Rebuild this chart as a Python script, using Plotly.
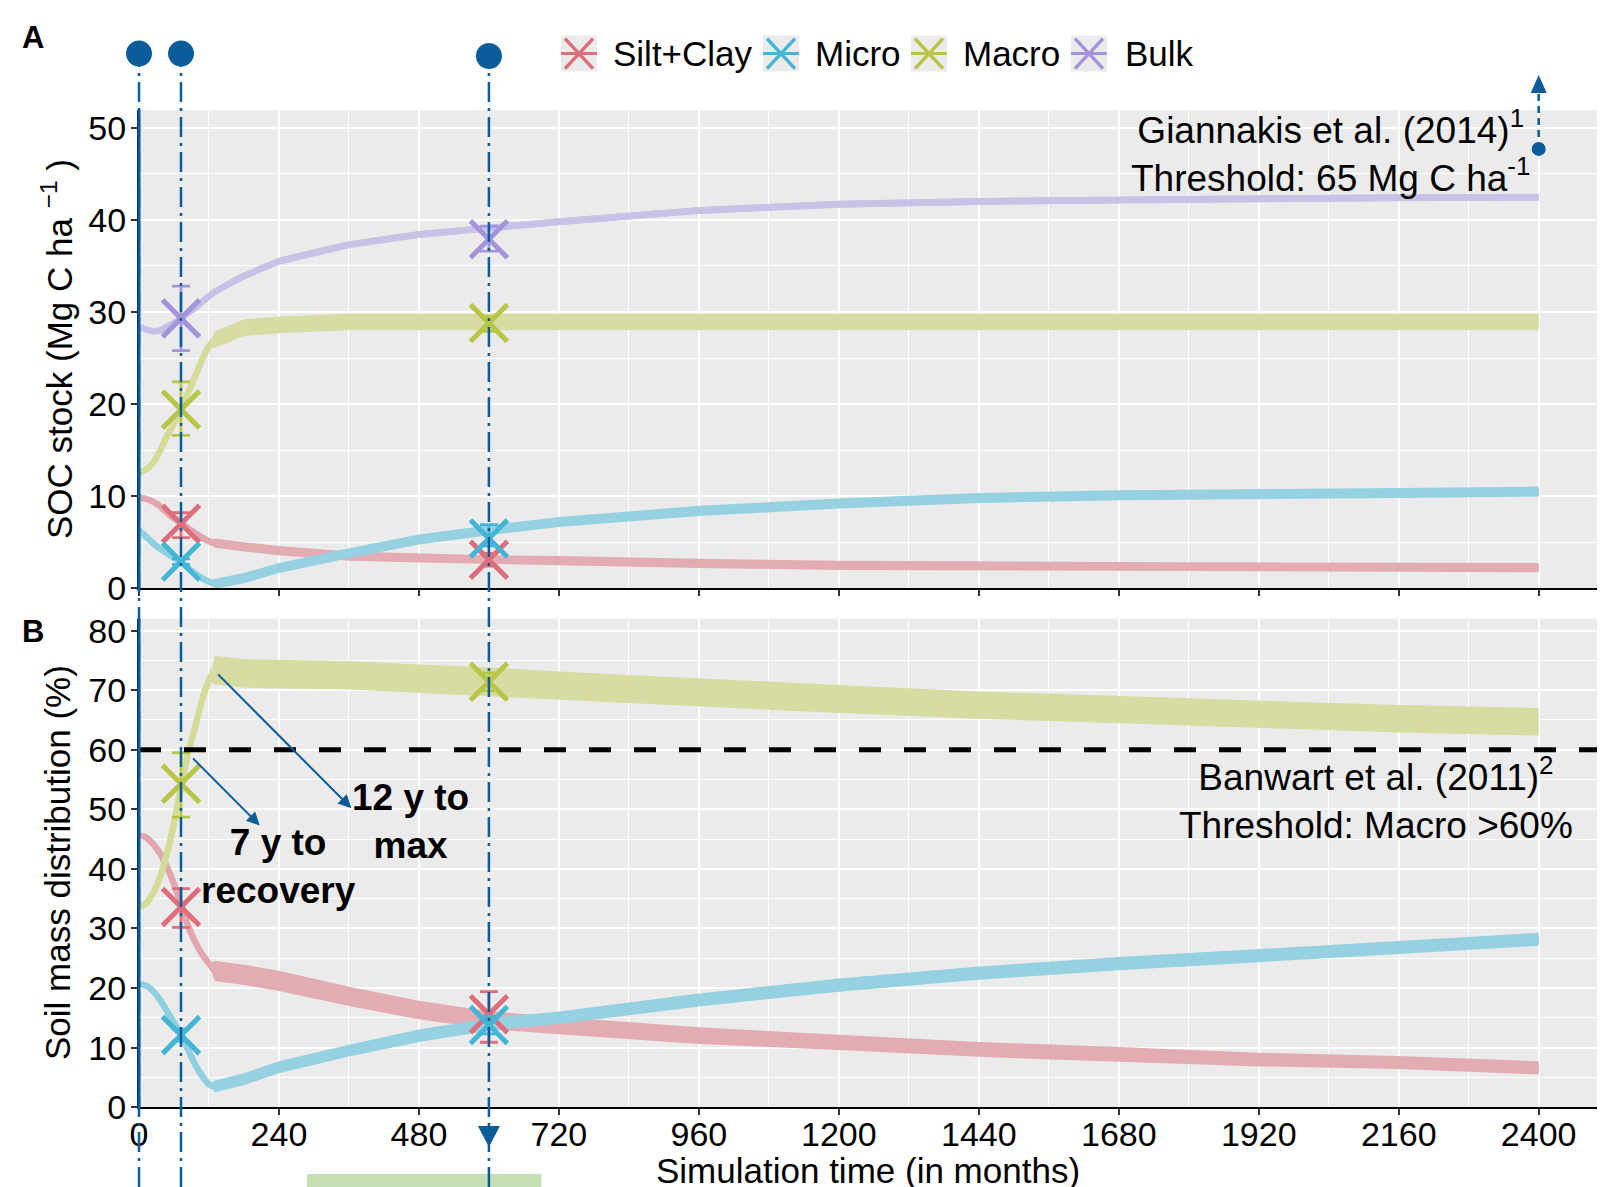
import plotly.graph_objects as go

# ---------------------------------------------------------------- data
TIME = [0, 12, 24, 36, 48, 60, 72, 84, 96, 108, 120, 130, 180, 240, 360, 480,
        600, 720, 960, 1200, 1440, 1680, 1920, 2160, 2400]

SERIES = ["Silt+Clay", "Micro", "Macro", "Bulk"]

# Panel A: SOC stock (Mg C ha-1), centre of the seasonal band
SOC_SILTCLAY = [9.8, 9.7, 9.4, 8.9, 8.2, 7.6, 7.1, 6.5, 6.0, 5.5, 5.1, 4.9, 4.5,
                4.1, 3.5, 3.3, 3.1, 3.0, 2.7, 2.5, 2.4, 2.35, 2.3, 2.3, 2.25]
SOC_MICRO = [6.3, 5.6, 4.9, 4.3, 3.8, 3.3, 2.9, 2.2, 1.6, 1.1, 0.7, 0.5, 1.1,
             2.2, 3.8, 5.3, 6.3, 7.2, 8.4, 9.2, 9.8, 10.1, 10.2, 10.35, 10.5]
SOC_MACRO = [12.5, 12.9, 13.6, 14.9, 16.5, 17.9, 19.4, 21.2, 23.0, 24.8, 26.3,
             27.0, 28.3, 28.6, 28.9, 28.9, 28.9, 28.9, 28.9, 28.9, 28.9, 28.9,
             28.9, 28.9, 28.9]
SOC_BULK = [28.4, 28.1, 27.9, 28.0, 28.4, 28.8, 29.3, 29.9, 30.4, 31.1, 31.7,
            32.2, 33.9, 35.5, 37.3, 38.4, 39.1, 39.8, 41.0, 41.7, 42.0, 42.15,
            42.3, 42.4, 42.45]
# half-height of the seasonal oscillation band (panel A)
SOC_SILTCLAY_AMP = [0, 0, 0, 0, 0, 0, 0, 0, 0, 0, 0, 0.5, 0.5, 0.5, 0.5, 0.5,
                    0.5, 0.5, 0.5, 0.5, 0.5, 0.5, 0.5, 0.5, 0.5]
SOC_MICRO_AMP = [0, 0, 0, 0, 0, 0, 0, 0, 0, 0, 0, 0.55, 0.55, 0.55, 0.55, 0.55,
                 0.55, 0.55, 0.55, 0.55, 0.55, 0.55, 0.55, 0.55, 0.55]
SOC_MACRO_AMP = [0, 0, 0, 0, 0, 0, 0, 0, 0, 0, 0, 0.9, 0.9, 0.9, 0.9, 0.9,
                 0.9, 0.9, 0.9, 0.9, 0.9, 0.9, 0.9, 0.9, 0.9]
SOC_BULK_AMP = [0, 0, 0, 0, 0, 0, 0, 0, 0, 0, 0, 0.38, 0.38, 0.38, 0.38, 0.38,
                0.38, 0.38, 0.38, 0.38, 0.38, 0.38, 0.38, 0.38, 0.38]

# Panel B: soil mass distribution (%), centre of the seasonal band
MASS_SILTCLAY = [45.6, 45.3, 44.2, 42.6, 40.3, 37.5, 34.1, 30.5, 27.8, 25.7,
                 24.1, 22.9, 22.2, 21.2, 18.6, 16.3, 14.6, 13.7, 12.0, 10.9,
                 9.7, 8.9, 8.0, 7.5, 6.6]
MASS_MICRO = [20.7, 20.4, 19.5, 18.0, 16.1, 14.2, 12.3, 9.7, 7.2, 5.3, 3.8, 3.5,
              4.7, 6.7, 9.5, 12.0, 13.9, 15.0, 18.0, 20.5, 22.5, 24.1, 25.4,
              26.8, 28.2]
MASS_MACRO = [33.6, 34.2, 35.9, 38.6, 42.6, 47.7, 53.7, 59.4, 63.8, 68.3, 71.7,
              73.4, 72.8, 72.7, 72.5, 71.9, 71.4, 70.8, 69.6, 68.5, 67.5, 66.7,
              66.0, 65.2, 64.7]
MASS_SILTCLAY_AMP = [0, 0, 0, 0, 0, 0, 0, 0, 0, 0, 0, 1.7, 1.7, 1.7, 1.6, 1.55,
                     1.5, 1.45, 1.4, 1.3, 1.25, 1.2, 1.15, 1.1, 1.1]
MASS_MICRO_AMP = [0, 0, 0, 0, 0, 0, 0, 0, 0, 0, 0, 1.0, 1.0, 1.0, 1.0, 1.05,
                  1.05, 1.05, 1.1, 1.1, 1.1, 1.1, 1.1, 1.1, 1.1]
MASS_MACRO_AMP = [0, 0, 0, 0, 0, 0, 0, 0, 0, 0, 0, 2.4, 2.4, 2.4, 2.4, 2.4,
                  2.4, 2.35, 2.35, 2.35, 2.3, 2.3, 2.3, 2.3, 2.3]

# Measured values (crosses with error bars)
MARK_TIME = [72, 600]
SOC_MARK = {"Silt+Clay": [7.0, 3.1], "Micro": [2.9, 5.4],
            "Macro": [19.4, 28.8], "Bulk": [29.3, 37.9]}
SOC_ERR_PLUS = {"Silt+Clay": [1.2, 0.7], "Micro": [0.3, 1.5],
                "Macro": [3.0, 0.7], "Bulk": [3.5, 1.4]}
SOC_ERR_MINUS = {"Silt+Clay": [1.5, 0.7], "Micro": [0.3, 0.8],
                 "Macro": [2.8, 0.9], "Bulk": [3.5, 1.3]}
MASS_MARK = {"Silt+Clay": [33.6, 15.6], "Micro": [12.1, 13.8], "Macro": [54.3, 71.4]}
MASS_ERR_PLUS = {"Silt+Clay": [3.1, 3.8], "Micro": [1.0, 1.5], "Macro": [5.2, 1.5]}
MASS_ERR_MINUS = {"Silt+Clay": [3.4, 4.7], "Micro": [1.0, 1.5], "Macro": [5.6, 1.5]}

EVENT_TIME = [0, 72, 600]          # vertical reference lines
MACRO_THRESHOLD = 60               # Banwart et al. (2011)
SOC_ARROW_TIME = 2400              # Giannakis threshold marker
SOC_ARROW_VALUE = 47.7
GREEN_SPAN = [288, 690]
X_TICKS = [0, 240, 480, 720, 960, 1200, 1440, 1680, 1920, 2160, 2400]

# ---------------------------------------------------------------- styles
OFF = 8                       # page body margin
W_FIG, H_FIG = 1607, 1179
FONT = "Liberation Sans, Arial, sans-serif"
BLUE = "#0b5c9a"
LINE_COL = {"Silt+Clay": "#e2a7ae", "Micro": "#8fcfe0",
            "Macro": "#d5dc9a", "Bulk": "#c6bfe6"}
BAND_COL = {"Silt+Clay": "#e3acb3", "Micro": "#96d1e1",
            "Macro": "#d7dda2", "Bulk": "#c9c2e6"}
MARK_COL = {"Silt+Clay": "#de6e7b", "Micro": "#45b5d5",
            "Macro": "#b9c546", "Bulk": "#a495da"}

X_PX = (139, 1597)
XMAX = 2500
TOP_PX = (110.2, 588.3)
YMAX_TOP = 51.9
BOT_PX = (618.7, 1107.2)
YMAX_BOT = 82.0


def px(x):
    return (x - OFF) / W_FIG


def py(y):
    return 1 - (y - OFF) / H_FIG


def top_val(pix):
    return (TOP_PX[1] - pix) / (TOP_PX[1] - TOP_PX[0]) * YMAX_TOP


fig = go.Figure()


def add_band(t, c, amp, name, xa, ya):
    upper = [ci + ai for ci, ai in zip(c, amp)]
    lower = [ci - ai for ci, ai in zip(c, amp)]
    fig.add_trace(go.Scatter(x=t, y=c, mode="lines",
                             line=dict(color=LINE_COL[name], width=6.5, shape="spline",
                                       smoothing=0.4),
                             xaxis=xa, yaxis=ya, showlegend=False, hoverinfo="skip"))
    fig.add_trace(go.Scatter(x=t + t[::-1], y=upper + lower[::-1], fill="toself",
                             fillcolor=BAND_COL[name], mode="lines", line=dict(width=0),
                             xaxis=xa, yaxis=ya, hoverinfo="skip", showlegend=False))


# Panel A bands
add_band(TIME, SOC_SILTCLAY, SOC_SILTCLAY_AMP, "Silt+Clay", "x", "y")
add_band(TIME, SOC_MICRO, SOC_MICRO_AMP, "Micro", "x", "y")
add_band(TIME, SOC_MACRO, SOC_MACRO_AMP, "Macro", "x", "y")
add_band(TIME, SOC_BULK, SOC_BULK_AMP, "Bulk", "x", "y")
# Panel B bands
add_band(TIME, MASS_SILTCLAY, MASS_SILTCLAY_AMP, "Silt+Clay", "x2", "y2")
add_band(TIME, MASS_MICRO, MASS_MICRO_AMP, "Micro", "x2", "y2")
add_band(TIME, MASS_MACRO, MASS_MACRO_AMP, "Macro", "x2", "y2")


def add_marks(vals, plus, minus, name, xa, ya):
    col = MARK_COL[name]
    fig.add_trace(go.Scatter(
        x=MARK_TIME, y=vals, mode="markers", xaxis=xa, yaxis=ya, showlegend=False,
        marker=dict(symbol="x-thin", size=37, color=col, line=dict(width=5, color=col)),
        error_y=dict(type="data", symmetric=False, array=plus, arrayminus=minus,
                     color=col, thickness=2.8, width=9)))


for s in SERIES:
    add_marks(SOC_MARK[s], SOC_ERR_PLUS[s], SOC_ERR_MINUS[s], s, "x", "y")
for s in ["Silt+Clay", "Micro", "Macro"]:
    add_marks(MASS_MARK[s], MASS_ERR_PLUS[s], MASS_ERR_MINUS[s], s, "x2", "y2")

# threshold dot (panel A)
fig.add_trace(go.Scatter(x=[SOC_ARROW_TIME], y=[SOC_ARROW_VALUE], mode="markers",
                         marker=dict(size=14, color=BLUE), cliponaxis=False,
                         xaxis="x", yaxis="y", showlegend=False))

# ---------------------------------------------------------------- shapes
shapes = []
# Macro threshold dashed line
shapes.append(dict(type="line", xref="x2 domain", x0=0, x1=1, yref="y2",
                   y0=MACRO_THRESHOLD, y1=MACRO_THRESHOLD,
                   line=dict(color="black", width=5, dash="22px,23px")))
# green bar
shapes.append(dict(type="rect", xref="x2", x0=GREEN_SPAN[0], x1=GREEN_SPAN[1],
                   yref="paper", y0=0, y1=py(1174), fillcolor="#c5e0b4",
                   line=dict(width=0), layer="above"))
# event lines with dots on top
DOT_PIX = [53.6, 53.6, 56.0]
for t, dp in zip(EVENT_TIME, DOT_PIX):
    if t == 0:
        xr, xv = "x2 domain", 0
    else:
        xr, xv = "x2", t
    shapes.append(dict(type="line", xref=xr, x0=xv, x1=xv, yref="paper",
                       y0=0, y1=py(dp),
                       line=dict(color=BLUE, width=2.5, dash="20px,6px,3px,6px")))
    shapes.append(dict(type="circle", xref=xr, xsizemode="pixel", xanchor=xv,
                       x0=-13, x1=13, yref="paper", ysizemode="pixel", yanchor=py(dp),
                       y0=-13, y1=13, fillcolor=BLUE, line=dict(width=0)))
# solid blue left edge inside panels
for yr in ["y domain", "y2 domain"]:
    shapes.append(dict(type="line", xref="x2 domain", x0=0, x1=0, yref=yr, y0=0, y1=1,
                       line=dict(color=BLUE, width=3)))
# down triangle below panel B at the last event
shapes.append(dict(type="path", xref="x2", xsizemode="pixel", xanchor=EVENT_TIME[-1],
                   yref="paper", ysizemode="pixel", yanchor=py(1136),
                   path="M-11,10 L11,10 L0,-11 Z", fillcolor=BLUE, line=dict(width=0)))
# dashed arrow for Giannakis threshold
shapes.append(dict(type="line", xref="x", x0=SOC_ARROW_TIME, x1=SOC_ARROW_TIME,
                   yref="y domain", y0=SOC_ARROW_VALUE / YMAX_TOP,
                   y1=top_val(92) / YMAX_TOP,
                   line=dict(color=BLUE, width=2.5, dash="7px,5px")))
shapes.append(dict(type="path", xref="x", xsizemode="pixel", xanchor=SOC_ARROW_TIME,
                   yref="paper", ysizemode="pixel", yanchor=py(84),
                   path="M-8,-9 L8,-9 L0,9 Z", fillcolor=BLUE, line=dict(width=0)))

# legend (manual, ggplot style keys)
LEG_KEYS = [(561, 611), (763, 813), (911, 961), (1071, 1123)]
LEG_Y = 53.6
annotations = []
for (kx, tx), s in zip(LEG_KEYS, SERIES):
    col = MARK_COL[s]
    shapes.append(dict(type="rect", xref="paper", yref="paper", x0=px(kx), x1=px(kx + 36),
                       y0=py(LEG_Y + 18), y1=py(LEG_Y - 18), fillcolor="#ebebeb",
                       line=dict(width=0)))
    shapes.append(dict(type="line", xref="paper", yref="paper", x0=px(kx), x1=px(kx + 36),
                       y0=py(LEG_Y), y1=py(LEG_Y), line=dict(color=col, width=3)))
    shapes.append(dict(type="line", xref="paper", yref="paper", x0=px(kx + 4), x1=px(kx + 32),
                       y0=py(LEG_Y - 15), y1=py(LEG_Y + 15), line=dict(color=col, width=3.5)))
    shapes.append(dict(type="line", xref="paper", yref="paper", x0=px(kx + 4), x1=px(kx + 32),
                       y0=py(LEG_Y + 15), y1=py(LEG_Y - 15), line=dict(color=col, width=3.5)))
    annotations.append(dict(text=s, xref="paper", yref="paper", x=px(tx), y=py(LEG_Y),
                            xanchor="left", yanchor="middle", showarrow=False,
                            font=dict(size=35, color="black", family=FONT)))


def txt(text, x, y, size=35, bold=False, angle=0, xanchor="center"):
    if bold:
        text = "<b>" + text + "</b>"
    annotations.append(dict(text=text, xref="paper", yref="paper", x=px(x), y=py(y),
                            xanchor=xanchor, yanchor="middle", showarrow=False,
                            textangle=angle,
                            font=dict(size=size, color="black", family=FONT)))


txt("A", 33, 37, size=31, bold=True)
txt("B", 33, 631, size=31, bold=True)
txt("SOC stock (Mg C ha <sup>−1</sup> )", 57, 349, angle=-90)
txt("Soil mass distribution (%)", 57, 863, angle=-90)
txt("Simulation time (in months)", 868, 1170)
txt("Giannakis et al. (2014)<sup>1</sup><br>Threshold: 65 Mg C ha<sup>-1</sup>", 1330, 151,
    size=37)
txt("Banwart et al. (2011)<sup>2</sup><br>Threshold: Macro &gt;60%", 1376, 798, size=37)
txt("7 y to<br>recovery", 278, 866, size=37, bold=True)
txt("12 y to<br>max", 410, 821, size=37, bold=True)

# blue arrows (panel B)
ARROWS = [((207, 47.3), (90, 58.8)), ((364, 50.2), (133, 72.9))]
for (hx, hy), (tx_, ty_) in ARROWS:
    annotations.append(dict(x=hx, y=hy, ax=tx_, ay=ty_, xref="x2", yref="y2",
                            axref="x2", ayref="y2", text="", showarrow=True,
                            arrowhead=2, arrowsize=1.3, arrowwidth=2, arrowcolor=BLUE,
                            standoff=0))

# ---------------------------------------------------------------- axes
xdom = [px(X_PX[0]), px(X_PX[1])]
tick_font = dict(size=34, color="black", family=FONT)
common_x = dict(range=[0, XMAX], domain=xdom, tickvals=X_TICKS, showgrid=True,
                gridcolor="white", gridwidth=2.3, zeroline=False, showline=True,
                linecolor="black", linewidth=2, ticks="outside", ticklen=6,
                tickwidth=2, tickcolor="#333333", automargin=False,
                minor=dict(dtick=120, tick0=0, showgrid=True, gridcolor="white",
                           gridwidth=1.1, ticks=""))
common_y = dict(showgrid=True, gridcolor="white", gridwidth=2.3, zeroline=False,
                showline=True, linecolor="black", linewidth=2, ticks="outside",
                ticklen=6, tickwidth=2, tickcolor="#333333", automargin=False,
                tickfont=tick_font, ticklabelstandoff=-2,
                minor=dict(dtick=5, tick0=0, showgrid=True, gridcolor="white",
                           gridwidth=1.1, ticks=""))

fig.update_layout(
    width=W_FIG, height=H_FIG, autosize=False,
    margin=dict(l=0, r=0, t=0, b=0),
    paper_bgcolor="white", plot_bgcolor="#ebebeb",
    showlegend=False,
    font=dict(family=FONT, color="black"),
    xaxis=dict(**common_x, anchor="y", showticklabels=False, matches="x2"),
    yaxis=dict(**common_y, anchor="x",
               domain=[py(TOP_PX[1]), py(TOP_PX[0])],
               range=[0, YMAX_TOP], tickvals=[0, 10, 20, 30, 40, 50]),
    xaxis2=dict(**common_x, anchor="y2", tickfont=tick_font, ticklabelstandoff=-10),
    yaxis2=dict(**common_y, anchor="x2",
                domain=[py(BOT_PX[1]), py(BOT_PX[0])],
                range=[0, YMAX_BOT], tickvals=[0, 10, 20, 30, 40, 50, 60, 70, 80]),
    shapes=shapes,
    annotations=annotations,
)

fig.write_html("out.html")
